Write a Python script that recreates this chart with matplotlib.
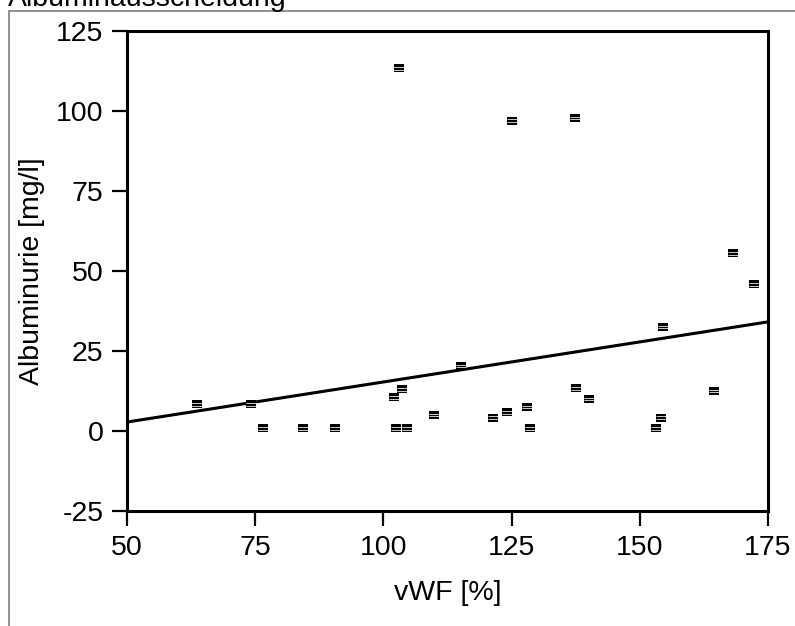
import matplotlib
matplotlib.use("Agg")
import matplotlib.pyplot as plt
from matplotlib.path import Path
from matplotlib.patches import Rectangle

plt.rcParams['font.family'] = ['Liberation Sans', 'DejaVu Sans']
plt.rcParams['axes.unicode_minus'] = False

# vWF [%] vs Albuminurie [mg/l]
vwf = [103.0, 125.1, 137.4, 168.2, 172.3, 154.5,
       63.6, 74.2, 76.5, 84.3, 90.6, 102.1, 103.6, 102.5, 104.6, 109.9,
       115.1, 121.4, 124.1, 128.0, 128.6, 137.6, 140.1, 153.2, 154.1, 164.5]
alb = [113.4, 96.9, 97.8, 55.6, 45.9, 32.5,
       8.4, 8.4, 0.9, 0.9, 0.9, 10.6, 13.1, 0.9, 0.9, 5.0,
       20.3, 4.1, 5.9, 7.5, 0.9, 13.4, 10.0, 0.9, 4.1, 12.5]

fit_x = [50, 175]
fit_y = [2.8, 34.1]

xticks = [50, 75, 100, 125, 150, 175]
yticks = [-25, 0, 25, 50, 75, 100, 125]

# marker: solid box with two thin white stripes
box = Path([(-1, -0.8), (1, -0.8), (1, 0.8), (-1, 0.8), (-1, -0.8)],
           [Path.MOVETO, Path.LINETO, Path.LINETO, Path.LINETO, Path.CLOSEPOLY])
gaps = Path([(-1, -0.27), (1, -0.27), (-1, 0.27), (1, 0.27)],
            [Path.MOVETO, Path.LINETO, Path.MOVETO, Path.LINETO])

fig = plt.figure(figsize=(7.95, 6.26), dpi=100)
ax = fig.add_axes([127/795, 1 - 511/626, 641/795, 480/626])

ax.plot(fit_x, fit_y, color="black", lw=2.2, zorder=2)
ax.scatter(vwf, alb, marker=box, s=58, color="black", linewidths=0, zorder=3)
ax.scatter(vwf, alb, marker=gaps, s=58, facecolors="none", edgecolors="white",
           linewidths=0.55, zorder=4)

ax.set_xlim(50, 175)
ax.set_ylim(-25, 125)
ax.set_xticks(xticks)
ax.set_yticks(yticks)
ax.tick_params(direction="out", length=11, width=1.6, labelsize=20.5, pad=6)
for s in ax.spines.values():
    s.set_linewidth(2.2)
ax.set_xlabel("vWF [%]", fontsize=20.5, labelpad=14)
ax.set_ylabel("Albuminurie [mg/l]", fontsize=20.5, labelpad=8)

fig.patches.append(Rectangle((9/795, -0.1), 1.2, 1 - 11/626 + 0.1,
                             transform=fig.transFigure, fill=False,
                             edgecolor="#888888", lw=1.3))
fig.text(8/795, 1 - 6/626, "Albuminausscheidung", fontsize=20.5, va="baseline", ha="left")

fig.savefig("out.png", dpi=100)
